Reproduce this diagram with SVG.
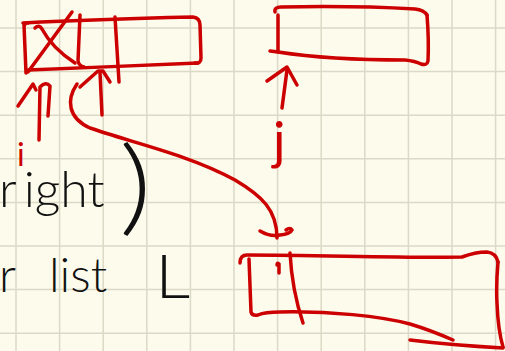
<svg xmlns="http://www.w3.org/2000/svg" width="505" height="351" viewBox="0 0 505 351">
<style>
.bg{fill:#FCFBEC}
.grid line{stroke:#DCD9C7;stroke-width:1.5}
.red{fill:none;stroke:#CC0000;stroke-width:3.5;stroke-linecap:round;stroke-linejoin:round}
.hand{font-family:Lato,"Liberation Sans",sans-serif;font-weight:300;fill:#111}
.rlabel{font-family:Lato,"Liberation Sans",sans-serif;font-weight:400;fill:#CC0000}
</style>
<rect class="bg" x="0" y="0" width="505" height="351"/>
<g class="grid">
<line x1="16" y1="0" x2="16" y2="351"/><line x1="59.6" y1="0" x2="59.6" y2="351"/><line x1="103.2" y1="0" x2="103.2" y2="351"/><line x1="146.8" y1="0" x2="146.8" y2="351"/><line x1="190.4" y1="0" x2="190.4" y2="351"/><line x1="234" y1="0" x2="234" y2="351"/><line x1="277.6" y1="0" x2="277.6" y2="351"/><line x1="321.2" y1="0" x2="321.2" y2="351"/><line x1="364.8" y1="0" x2="364.8" y2="351"/><line x1="408.4" y1="0" x2="408.4" y2="351"/><line x1="452" y1="0" x2="452" y2="351"/><line x1="495.6" y1="0" x2="495.6" y2="351"/>
<line x1="0" y1="28" x2="505" y2="28"/><line x1="0" y1="71.6" x2="505" y2="71.6"/><line x1="0" y1="115.2" x2="505" y2="115.2"/><line x1="0" y1="158.8" x2="505" y2="158.8"/><line x1="0" y1="202.4" x2="505" y2="202.4"/><line x1="0" y1="246" x2="505" y2="246"/><line x1="0" y1="289.6" x2="505" y2="289.6"/><line x1="0" y1="333.2" x2="505" y2="333.2"/>
</g>
<g id="array-top-left" class="red">
<path d="M23,23 C80,20 150,18 193,17 Q200,18 200,25 L201,58 Q201,64 195,63"/>
<path d="M28,70 C80,68 150,65 198,63"/>
<path d="M24,27 Q25,22 28,23 M24,25 Q25,50 26,73"/>
<path d="M80,15 L78,61 Q79,66 84,67"/>
<path d="M115,17 L119,82"/>
<path d="M72,12 Q50,42 28,72"/>
<path d="M35,28 Q39,24 42,29 Q52,48 75,63"/>
</g>
<g id="array-top-right" class="red">
<path d="M275,12 Q274,7 281,7 C330,6 380,7 415,9 Q424,10 427,15"/>
<path d="M427,15 Q429,40 428,61 Q427,66 421,64 Q415,61 405,60 C360,60 310,57 278,52 L270,51"/>
<path d="M278,15 L278,52"/>
</g>
<g id="array-bottom" class="red">
<path d="M240,263 Q240,255 247,255 C320,255 400,258 462,257 Q475,252 487,252 Q496,253 498,262"/>
<path d="M498,262 Q496,285 497,303 Q498,330 503,347"/>
<path d="M249,259 L251,312 Q252,316 258,315 Q265,312 280,312 C330,311 380,316 410,324 Q430,330 453,340"/>
<path d="M410,340 Q450,345 503,348"/>
<path d="M290,253 Q292,290 303,323"/>
<path d="M277,265 Q277,262 279,264 L279,273"/>
</g>
<g id="connectors" class="red">
<path d="M18,106 L33,84 L36,90"/>
<path d="M39,140 L40,87 Q46,81 50,86 L48,116"/>
<path d="M80,87 L98,71 L103,71 L110,82"/>
<path d="M100,72 L102,115"/>
<path d="M77,84 C66,100 68,118 90,128 C130,142 190,155 235,180 C262,196 277,210 277,238"/>
<path d="M260,231 Q270,237 280,235 Q290,234 292,230 Q290,227 286,230"/>
<path d="M267,81 L287,67 L297,85"/>
<path d="M287,70 L282,108"/>
</g>
<g id="label-i"><text class="rlabel" x="17" y="166" font-size="32">i</text></g>
<g id="label-j"><text class="rlabel" x="273" y="159" font-size="52">j</text></g>
<g id="text-right">
<text class="hand" x="-1" y="207" font-size="50">r<tspan dx="7">ight</tspan></text>
<text class="hand" transform="translate(119,222) scale(1.23,1)" font-size="104" font-weight="100">)</text>
</g>
<g id="text-list">
<text class="hand" x="-1" y="292" font-size="48">r</text>
<text class="hand" x="49" y="292" font-size="48">list</text>
<text class="hand" transform="translate(155,298) scale(1.12,1)" font-size="62">L</text>
</g>
</svg>
